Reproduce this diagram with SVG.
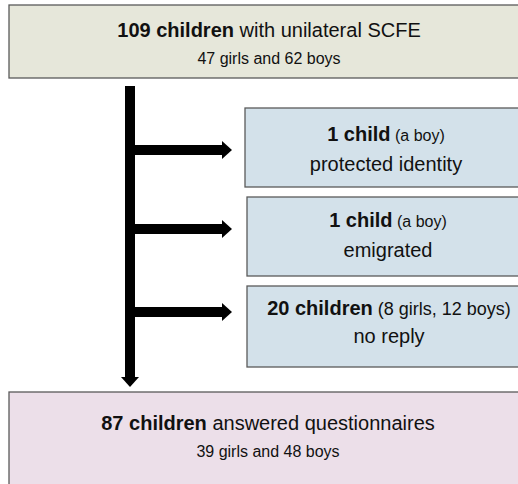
<svg xmlns="http://www.w3.org/2000/svg" width="518" height="484" viewBox="0 0 518 484">
<defs>
<style>
.box{stroke:#5a5a5a;stroke-width:1.3}
.top{fill:#e6e7da}
.mid{fill:#d3e1ea}
.bot{fill:#ecdfe9}
text{font-family:"Liberation Sans",Arial,sans-serif;fill:#111;text-anchor:middle}
.b{font-weight:bold}
.l{font-size:20px}
.s{font-size:16px}
.conn{stroke:#000;stroke-width:10;fill:none;marker-end:url(#head)}
</style>
<marker id="head" markerUnits="userSpaceOnUse" viewBox="0 0 10 20" refX="0" refY="10" markerWidth="10" markerHeight="20" orient="auto">
<path d="M0,1 L10,10 L0,19 Z" fill="#000"/>
</marker>
</defs>
<rect width="518" height="484" fill="#fff"/>
<g id="connectors">
<line class="conn" x1="130" y1="86" x2="130" y2="377"/>
<line class="conn" x1="130" y1="150" x2="222" y2="150"/>
<line class="conn" x1="130" y1="229" x2="222" y2="229"/>
<line class="conn" x1="130" y1="312" x2="222" y2="312"/>
</g>
<g id="n-total">
<rect class="box top" x="9" y="5" width="521" height="73"/>
<text class="l" x="269" y="37"><tspan class="b">109 children</tspan> with unilateral SCFE</text>
<text class="s" x="269" y="64">47 girls and 62 boys</text>
</g>
<g id="n-protected">
<rect class="box mid" x="245" y="108" width="283" height="79"/>
<text class="l" x="386" y="141"><tspan class="b">1 child</tspan><tspan class="s"> (a boy)</tspan></text>
<text class="l" x="386" y="171">protected identity</text>
</g>
<g id="n-emigrated">
<rect class="box mid" x="247" y="197" width="283" height="79"/>
<text class="l" x="388" y="227"><tspan class="b">1 child</tspan><tspan class="s"> (a boy)</tspan></text>
<text class="l" x="388" y="257">emigrated</text>
</g>
<g id="n-noreply">
<rect class="box mid" x="247" y="286" width="283" height="81"/>
<text class="l" x="389" y="315"><tspan class="b">20 children</tspan><tspan style="font-size:18px"> (8 girls, 12 boys)</tspan></text>
<text class="l" x="389" y="343">no reply</text>
</g>
<g id="n-answered">
<rect class="box bot" x="9" y="392" width="521" height="100"/>
<text class="l" x="268" y="430"><tspan class="b">87 children</tspan> answered questionnaires</text>
<text class="s" x="268" y="457">39 girls and 48 boys</text>
</g>
</svg>
